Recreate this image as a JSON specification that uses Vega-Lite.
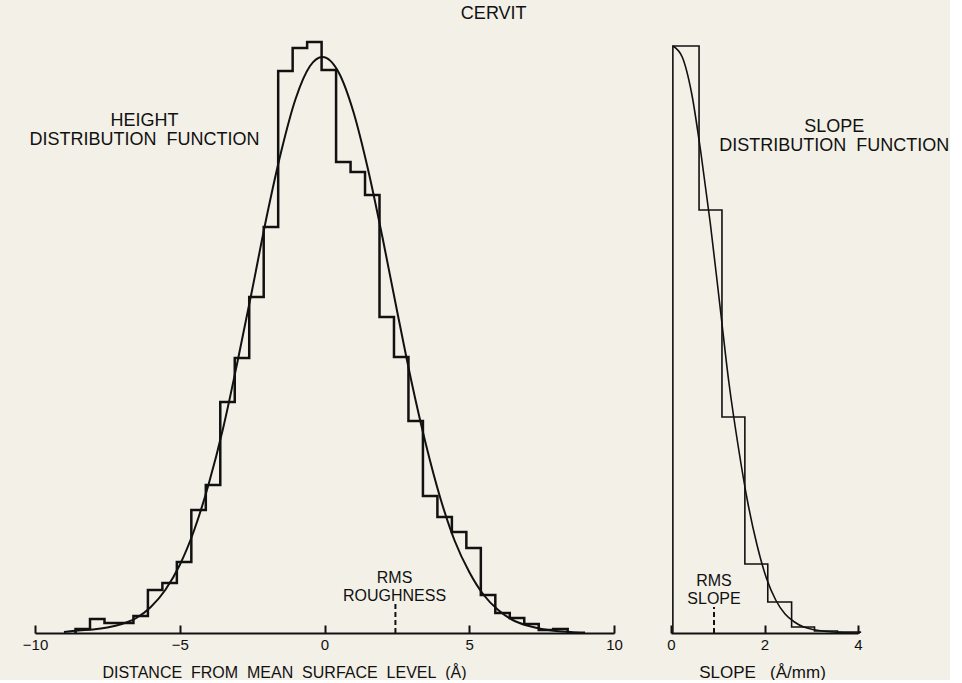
{
  "$schema": "https://vega.github.io/schema/vega-lite/v6.json",
  "background": "#f3f0e7",
  "padding": {"left": 22, "top": 5, "right": 0, "bottom": 0},
  "title": {"text": "CERVIT", "fontSize": 18, "fontWeight": "normal", "font": "Liberation Sans", "color": "#111111", "anchor": "middle", "dx": 8, "offset": 10},
  "config": {
    "view": {"stroke": null},
    "font": "Liberation Sans",
    "axis": {"grid": false, "domainColor": "#111111", "tickColor": "#111111", "labelColor": "#111111", "titleColor": "#111111", "labelFont": "Liberation Sans", "titleFont": "Liberation Sans", "labelFontSize": 15, "titleFontSize": 16, "titleFontWeight": "normal", "labelFlush": false, "tickSize": -8, "tickWidth": 2, "domainWidth": 2, "labelPadding": 12, "titleBaseline": "alphabetic", "titleY": 44}
  },
  "datasets": {
    "hl": [{"i":0,"x":-8.6,"y":0},{"i":1,"x":-8.6,"y":4},{"i":2,"x":-8.1,"y":14},{"i":3,"x":-7.6,"y":10},{"i":4,"x":-7.1,"y":10},{"i":5,"x":-6.6,"y":17},{"i":6,"x":-6.1,"y":43},{"i":7,"x":-5.6,"y":50},{"i":8,"x":-5.1,"y":71},{"i":9,"x":-4.6,"y":123},{"i":10,"x":-4.1,"y":148},{"i":11,"x":-3.6,"y":231},{"i":12,"x":-3.1,"y":275},{"i":13,"x":-2.6,"y":336},{"i":14,"x":-2.1,"y":406},{"i":15,"x":-1.6,"y":562},{"i":16,"x":-1.1,"y":585},{"i":17,"x":-0.6,"y":591},{"i":18,"x":-0.1,"y":563},{"i":19,"x":0.4,"y":471},{"i":20,"x":0.9,"y":461},{"i":21,"x":1.4,"y":438},{"i":22,"x":1.9,"y":316},{"i":23,"x":2.4,"y":276},{"i":24,"x":2.9,"y":212},{"i":25,"x":3.4,"y":137},{"i":26,"x":3.9,"y":116},{"i":27,"x":4.4,"y":101},{"i":28,"x":4.9,"y":85},{"i":29,"x":5.4,"y":38},{"i":30,"x":5.9,"y":20},{"i":31,"x":6.4,"y":15},{"i":32,"x":6.9,"y":9},{"i":33,"x":7.4,"y":3},{"i":34,"x":7.9,"y":4},{"i":35,"x":8.4,"y":0}],
    "cl": [{"x":-9.0,"y":1},{"x":-8.5,"y":2.5},{"x":-8.0,"y":3.5},{"x":-7.5,"y":5.5},{"x":-7.0,"y":9},{"x":-6.5,"y":15},{"x":-6.0,"y":26},{"x":-5.5,"y":43},{"x":-5.0,"y":68},{"x":-4.5,"y":103},{"x":-4.0,"y":149},{"x":-3.5,"y":205},{"x":-3.0,"y":272},{"x":-2.5,"y":343},{"x":-2.0,"y":416},{"x":-1.5,"y":481},{"x":-1.0,"y":534},{"x":-0.5,"y":567},{"x":-0.07,"y":576},{"x":0.5,"y":560},{"x":1.0,"y":521},{"x":1.5,"y":464},{"x":2.0,"y":396},{"x":2.5,"y":323},{"x":3.0,"y":252},{"x":3.5,"y":189},{"x":4.0,"y":135},{"x":4.5,"y":92},{"x":5.0,"y":61},{"x":5.5,"y":38},{"x":6.0,"y":23},{"x":6.5,"y":13},{"x":7.0,"y":7.5},{"x":7.5,"y":4},{"x":8.0,"y":2},{"x":8.5,"y":1},{"x":9.0,"y":0.5}],
    "rl": [{"x":2.45,"y":0,"y2":30}],
    "tl": [{"x":-6.22,"y":512,"t":"HEIGHT\nDISTRIBUTION\u00a0\u00a0FUNCTION"}],
    "tl2": [{"x":2.42,"y":55,"t":"RMS\nROUGHNESS"}],
    "hr": [{"i":0,"x":0.04,"y":0},{"i":1,"x":0.04,"y":587},{"i":2,"x":0.6,"y":423},{"i":3,"x":1.09,"y":216},{"i":4,"x":1.58,"y":69},{"i":5,"x":2.07,"y":31},{"i":6,"x":2.58,"y":6},{"i":7,"x":3.07,"y":2},{"i":8,"x":3.56,"y":1},{"i":9,"x":4.05,"y":0}],
    "cr": [{"x":0.04,"y":587},{"x":0.24,"y":576},{"x":0.44,"y":540},{"x":0.64,"y":480},{"x":0.84,"y":410},{"x":1.04,"y":330},{"x":1.24,"y":250},{"x":1.44,"y":186},{"x":1.64,"y":131},{"x":1.84,"y":88},{"x":2.04,"y":55},{"x":2.24,"y":33},{"x":2.44,"y":19},{"x":2.64,"y":11},{"x":2.84,"y":6},{"x":3.04,"y":3.5},{"x":3.34,"y":1.5},{"x":3.64,"y":0.5},{"x":4.04,"y":0}],
    "rr": [{"x":0.92,"y":0,"y2":26}],
    "tr": [{"x":3.49,"y":506,"t":"SLOPE\nDISTRIBUTION\u00a0\u00a0FUNCTION"}],
    "tr2": [{"x":0.92,"y":52,"t":"RMS\nSLOPE"}]
  },
  "spacing": 57,
  "bounds": "flush",
  "hconcat": [
    {
      "width": 579,
      "height": 600,
      "encoding": {
        "x": {"field": "x", "type": "quantitative", "scale": {"domain": [-10, 10], "nice": false, "zero": false},
              "axis": {"title": "DISTANCE\u00a0 FROM\u00a0 MEAN\u00a0 SURFACE\u00a0 LEVEL\u00a0 (Å)", "values": [-10, -5, 0, 5, 10], "titleX": 249}},
        "y": {"field": "y", "type": "quantitative", "scale": {"domain": [0, 600], "nice": false}, "axis": null}
      },
      "layer": [
        {"data": {"name": "hl"}, "mark": {"type": "line", "interpolate": "step-after", "color": "#111111", "strokeWidth": 2.5}, "encoding": {"order": {"field": "i"}}},
        {"data": {"name": "cl"}, "mark": {"type": "line", "interpolate": "monotone", "color": "#111111", "strokeWidth": 2}, "encoding": {}},
        {"data": {"name": "rl"}, "mark": {"type": "rule", "color": "#111111", "strokeWidth": 2, "strokeDash": [5, 3]}, "encoding": {"y2": {"field": "y2"}}},
        {"data": {"name": "tl"}, "mark": {"type": "text", "lineBreak": "\n", "fontSize": 18, "lineHeight": 19, "align": "center", "baseline": "middle", "color": "#111111"}, "encoding": {"text": {"field": "t"}}},
        {"data": {"name": "tl2"}, "mark": {"type": "text", "lineBreak": "\n", "fontSize": 16, "lineHeight": 18, "align": "center", "baseline": "middle", "color": "#111111"}, "encoding": {"text": {"field": "t"}}}
      ]
    },
    {
      "width": 187,
      "height": 600,
      "encoding": {
        "x": {"field": "x", "type": "quantitative", "scale": {"domain": [0, 4], "nice": false},
              "axis": {"title": "SLOPE\u00a0\u00a0 (Å/mm)", "values": [0, 2, 4], "titleX": 91, "titleFontSize": 17}},
        "y": {"field": "y", "type": "quantitative", "scale": {"domain": [0, 600], "nice": false}, "axis": null}
      },
      "layer": [
        {"data": {"name": "hr"}, "mark": {"type": "line", "interpolate": "step-after", "color": "#111111", "strokeWidth": 1.6}, "encoding": {"order": {"field": "i"}}},
        {"data": {"name": "cr"}, "mark": {"type": "line", "interpolate": "monotone", "color": "#111111", "strokeWidth": 1.6}, "encoding": {}},
        {"data": {"name": "rr"}, "mark": {"type": "rule", "color": "#111111", "strokeWidth": 2, "strokeDash": [5, 3]}, "encoding": {"y2": {"field": "y2"}}},
        {"data": {"name": "tr"}, "mark": {"type": "text", "lineBreak": "\n", "fontSize": 18, "lineHeight": 19, "align": "center", "baseline": "middle", "color": "#111111"}, "encoding": {"text": {"field": "t"}}},
        {"data": {"name": "tr2"}, "mark": {"type": "text", "lineBreak": "\n", "fontSize": 16, "lineHeight": 18, "align": "center", "baseline": "middle", "color": "#111111"}, "encoding": {"text": {"field": "t"}}}
      ]
    }
  ]
}
